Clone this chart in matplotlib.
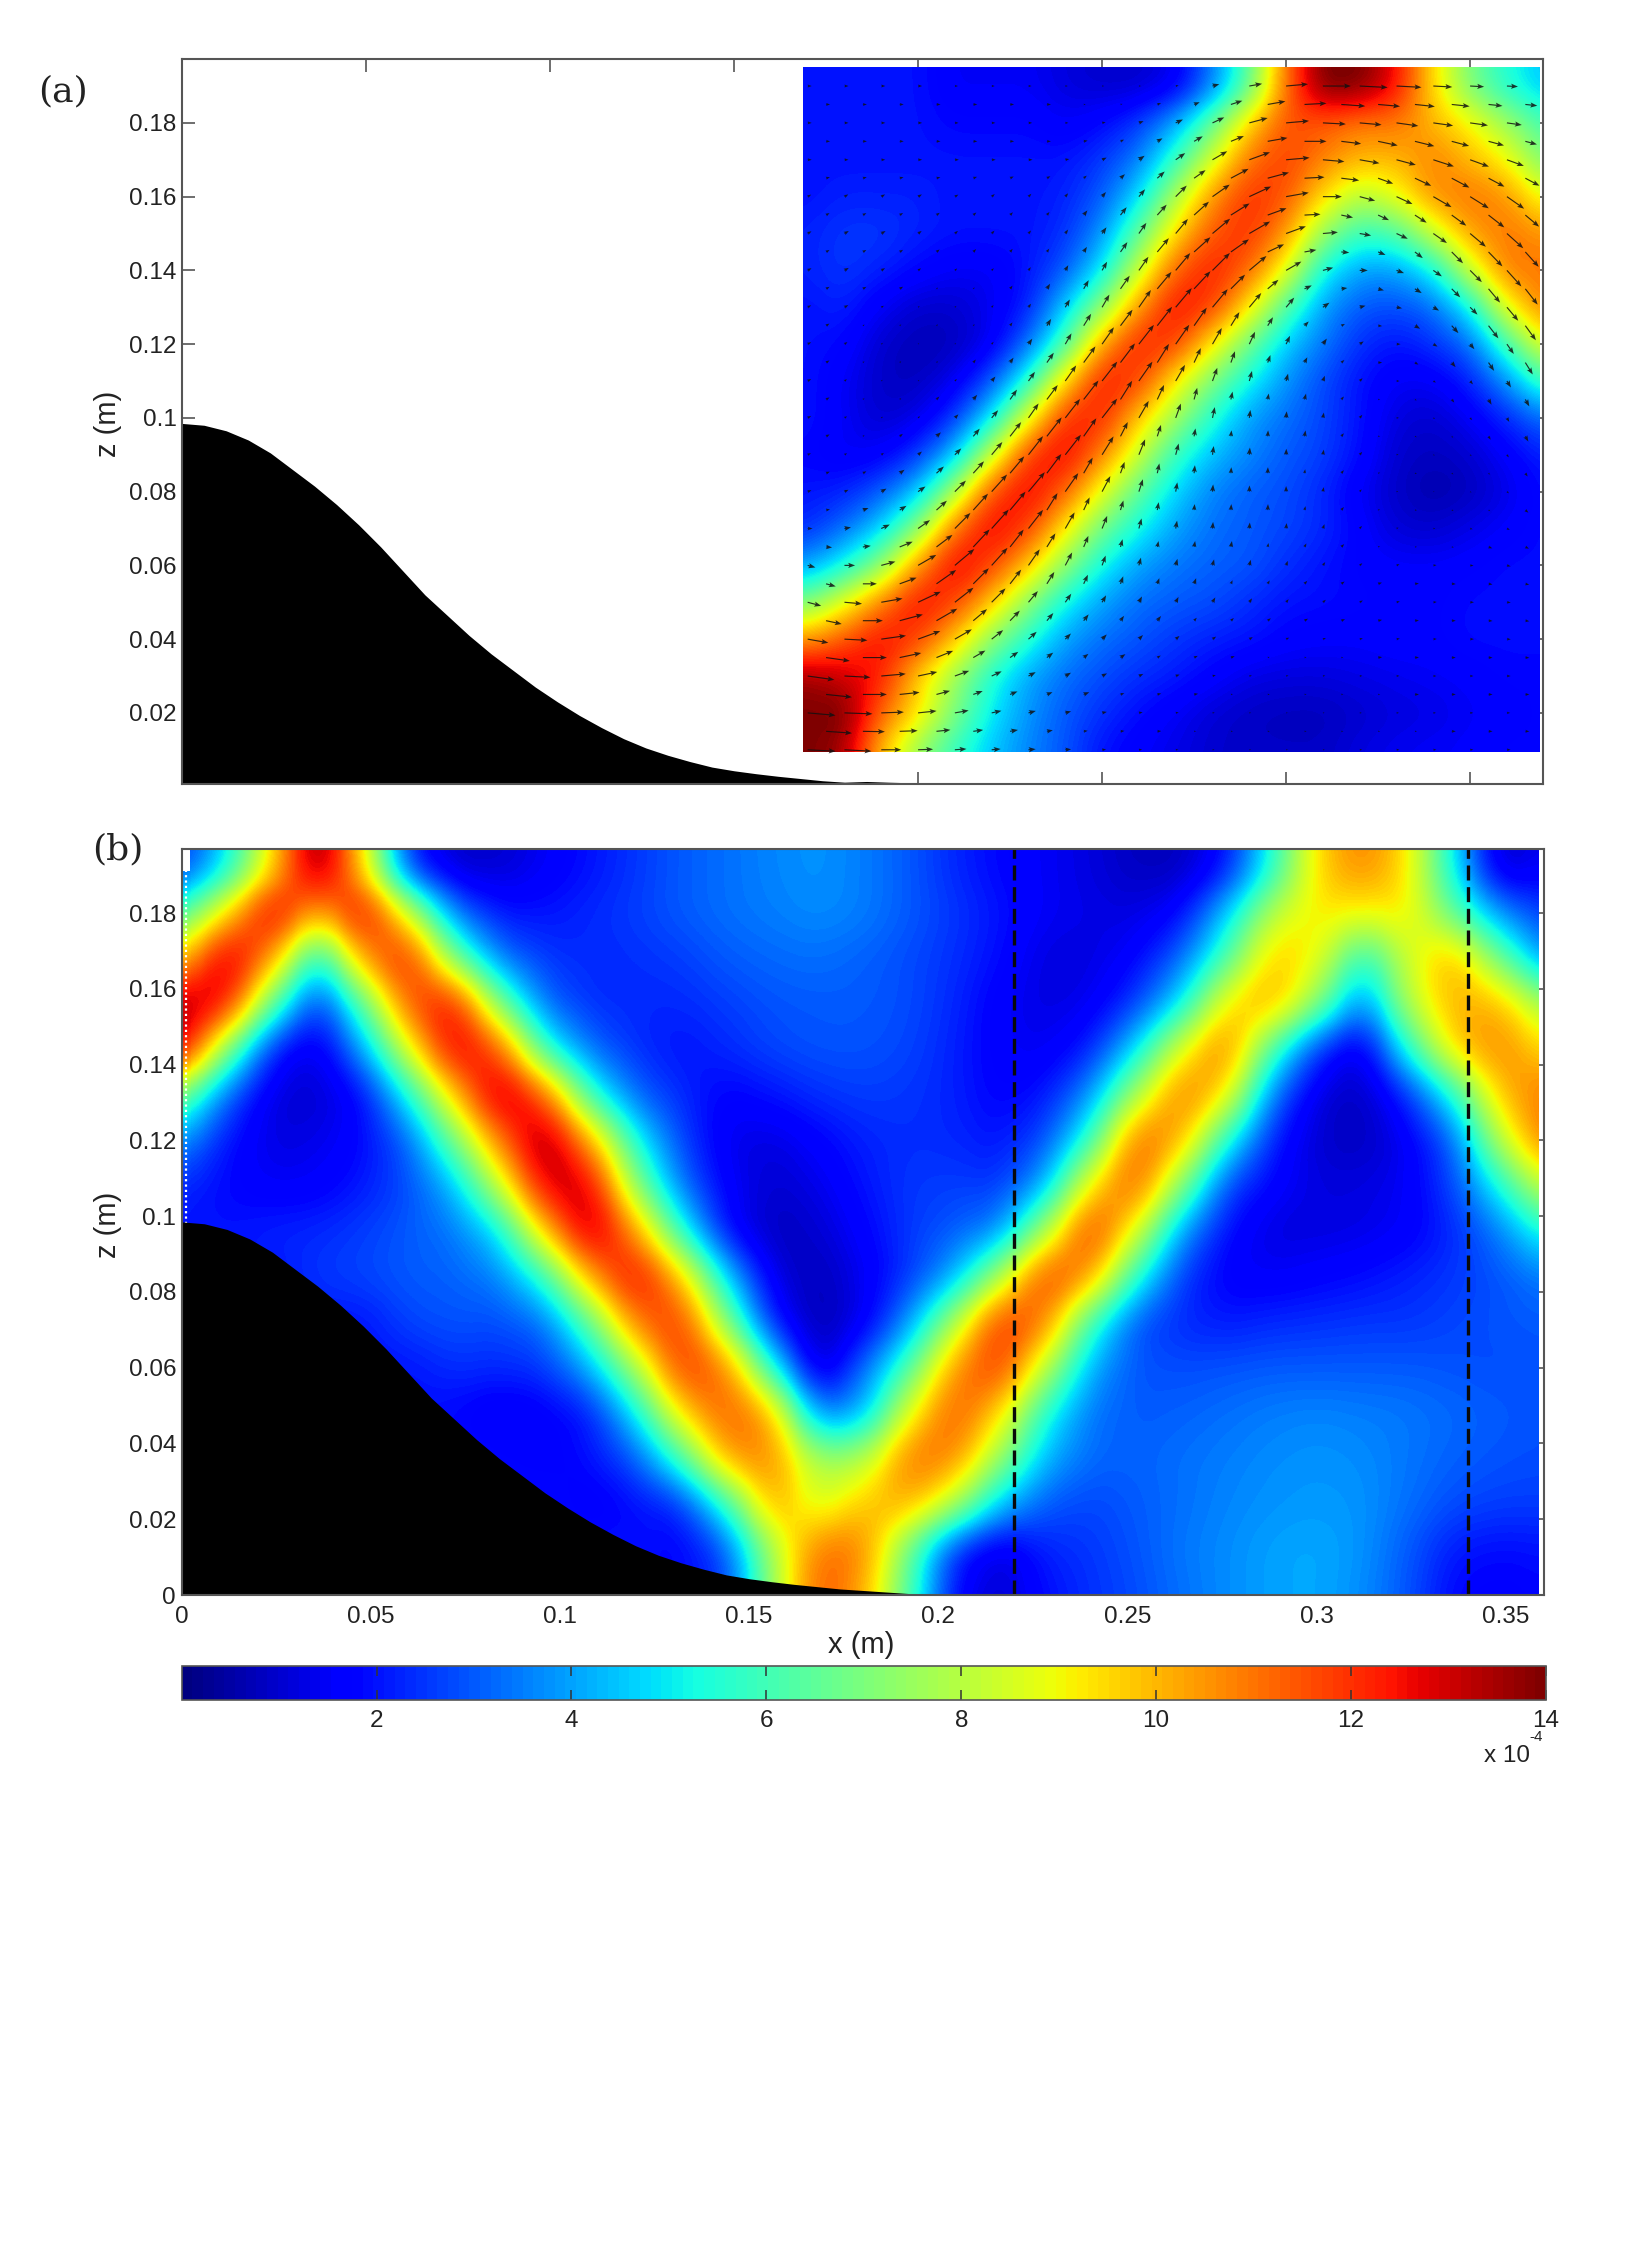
"""Internal wave beams over a ridge: PIV field (a) and model field (b)."""
import matplotlib

matplotlib.use("Agg")
import matplotlib.pyplot as plt
import numpy as np
from matplotlib.patches import Rectangle

WIDTH, HEIGHT = 1650, 2250

# bump profile (m)
bump_x = [0, 0.006, 0.012, 0.018, 0.024, 0.03, 0.036, 0.042, 0.048, 0.054, 0.06, 0.066, 0.072, 0.078, 0.084, 0.09, 0.096, 0.102, 0.108, 0.114, 0.12, 0.126, 0.132, 0.138, 0.144, 0.15, 0.156, 0.162, 0.168, 0.174, 0.18, 0.186, 0.192, 0.197]
bump_z = [0.0985, 0.098, 0.0965, 0.094, 0.0905, 0.086, 0.0815, 0.0765, 0.071, 0.065, 0.0585, 0.052, 0.0465, 0.041, 0.036, 0.0315, 0.027, 0.023, 0.0193, 0.016, 0.013, 0.0105, 0.0085, 0.0068, 0.0053, 0.0043, 0.0035, 0.0028, 0.0022, 0.0016, 0.0012, 0.0008, 0.0004, 0.0001]
tail_x = [0.186, 0.192, 0.2, 0.208]
tail_z = [0.0014, 0.0012, 0.001, 0.00085]

# panel (a), columns 0.17..0.37 every 0.01, rows 0.19..0.01 every 0.01
piv_x = [0.17, 0.18, 0.19, 0.20, 0.21, 0.22, 0.23, 0.24, 0.25, 0.26, 0.27, 0.28, 0.29, 0.30, 0.31, 0.32, 0.33, 0.34, 0.35, 0.36, 0.37]
piv_z = [0.19, 0.18, 0.17, 0.16, 0.15, 0.14, 0.13, 0.12, 0.11, 0.10, 0.09, 0.08, 0.07, 0.06, 0.05, 0.04, 0.03, 0.02, 0.01]
piv_field = [
    [2, 2, 2, 2, 1.5, 1.5, 1.5, 1.2, 1, 1, 1.5, 3.5, 6.5, 11, 14, 14, 12.5, 9.5, 7, 5.5, 4.5],
    [2, 2, 2, 2, 1.8, 1.8, 1.8, 1.5, 1.8, 2.5, 4, 6.5, 9.5, 11.5, 11.5, 11, 11, 10, 9, 7.5, 6],
    [2, 2, 2, 2, 2, 2, 2, 2, 2.5, 3.5, 5.8, 8.5, 11, 11.8, 10.8, 10, 10, 10.8, 10, 9, 7],
    [2, 2.2, 2.2, 2.2, 2, 2, 2, 2.2, 3, 4.8, 7.8, 10.5, 12, 11.5, 9.5, 8, 8.8, 10.5, 11, 10.5, 8.8],
    [2.2, 2.5, 2.5, 2.2, 2, 2, 2, 2.4, 3.8, 6.5, 9.5, 11.5, 12, 10.5, 7.5, 5.8, 6.2, 8.3, 10.3, 11, 10.5],
    [2.2, 2.5, 2.2, 1.8, 1.5, 1.5, 2, 3, 5, 8.3, 11.3, 12.3, 11.2, 8.8, 5.3, 4, 4, 5.2, 8.3, 10.8, 11],
    [2, 2.2, 1.5, 1, 1, 1.4, 2.2, 4.5, 7.3, 10.5, 12.5, 11.8, 9.3, 6.3, 4, 3, 2.8, 3.3, 5.2, 8.8, 10.8],
    [2, 1.8, 1, 0.7, 0.8, 1.5, 3.3, 6.2, 10.3, 12.2, 11.8, 9.3, 6.8, 4.6, 3.4, 2.4, 2, 2.4, 3.3, 6, 8.8],
    [2, 1.5, 0.9, 0.8, 1.4, 2.9, 5.6, 9.5, 12.3, 11.8, 9.3, 7, 5.2, 3.8, 2.8, 2, 1.5, 1.5, 2.2, 3.8, 6],
    [2, 1.5, 1, 1.3, 2.5, 5, 8.8, 12, 12.2, 9.8, 7.6, 5.5, 4, 3.3, 2.7, 2, 1.2, 1, 1.5, 2.3, 3.3],
    [1.8, 1.5, 1.6, 2.5, 4.5, 8.3, 11.8, 12.7, 10.8, 8.3, 5.8, 4.4, 3.6, 3, 2.6, 1.9, 1, 0.8, 1, 1.6, 2.2],
    [2, 2.2, 3, 4.5, 7.8, 11.5, 12.7, 11.3, 8.8, 6.5, 4.7, 3.6, 3.1, 2.8, 2.3, 1.5, 0.9, 0.6, 0.8, 1.3, 1.9],
    [2.4, 3.3, 4.7, 7.3, 11, 12.7, 11.8, 9.3, 6.8, 5.2, 4, 3.3, 3, 2.7, 2.3, 1.7, 1.1, 1, 1.3, 1.6, 1.9],
    [4, 5.3, 7.3, 10.5, 12.7, 11.8, 9.8, 7.3, 5.2, 4, 3.4, 3.1, 2.9, 2.4, 2, 1.7, 1.6, 1.6, 1.7, 1.9, 1.9],
    [7, 8.8, 10.8, 12.5, 11.8, 9.8, 7.3, 5.2, 4, 3.3, 3, 2.8, 2.4, 2, 1.9, 1.8, 1.7, 1.7, 1.9, 1.9, 1.9],
    [10.5, 11.5, 12.5, 11.8, 9.8, 7.3, 5.5, 4, 3.3, 2.9, 2.5, 2.2, 2, 1.7, 1.6, 1.6, 1.7, 1.7, 1.9, 1.9, 1.9],
    [13.5, 13, 12.3, 9.8, 7.6, 5.5, 4.1, 3.3, 2.8, 2.4, 2.1, 1.7, 1.3, 1.2, 1.2, 1.3, 1.4, 1.5, 1.6, 1.8, 1.8],
    [14, 14, 11.3, 9.3, 7, 5, 3.8, 3, 2.4, 1.9, 1.5, 1.1, 0.9, 0.8, 0.8, 1, 1.2, 1.3, 1.5, 1.6, 1.8],
    [14, 13.5, 10, 7.5, 5.8, 4.5, 3.6, 2.9, 2, 1.6, 1.3, 1, 0.9, 0.9, 0.9, 1.2, 1.4, 1.5, 1.6, 1.8, 1.8],
]
# arrow direction on the same grid, degrees on screen
piv_angle = [
    [0, 0, 0, 0, 0, 0, 0, 0, 0, 0, 10, 15, 10, 5, 0, -3, -3, -3, -3, -3, -3],
    [0, 0, 0, 0, 0, 0, 0, 0, 10, 20, 25, 25, 15, 5, -3, -5, -8, -8, -8, -8, -8],
    [0, 0, 0, 0, 0, 0, 0, 10, 25, 35, 35, 30, 20, 5, -5, -10, -15, -18, -20, -20, -20],
    [30, 30, 30, 30, 30, 40, 45, 50, 50, 50, 45, 35, 25, 10, 0, -15, -25, -30, -32, -35, -35],
    [30, 30, 30, 35, 40, 45, 50, 55, 55, 55, 50, 40, 30, 20, 5, -10, -25, -35, -40, -42, -45],
    [30, 30, 30, 35, 40, 45, 55, 60, 60, 55, 50, 45, 40, 30, 15, 0, -20, -35, -45, -48, -50],
    [30, 30, 30, 35, 40, 50, 55, 60, 60, 55, 50, 50, 50, 50, 35, 15, -10, -30, -45, -50, -52],
    [30, 35, 35, 40, 45, 50, 55, 60, 55, 52, 55, 60, 65, 65, 55, 35, 0, -30, -50, -55, -55],
    [30, 35, 40, 40, 45, 50, 55, 55, 52, 55, 60, 70, 75, 75, 70, 45, 0, -30, -50, -58, -60],
    [30, 30, 35, 40, 45, 50, 55, 52, 52, 60, 70, 78, 82, 85, 80, 50, 0, -30, -50, -60, -60],
    [25, 30, 35, 40, 45, 50, 52, 52, 58, 68, 75, 82, 85, 88, 80, 50, 10, -20, -40, -55, -60],
    [20, 25, 30, 35, 45, 48, 50, 55, 62, 72, 80, 85, 88, 90, 80, 50, 20, -10, -30, -40, -50],
    [0, 10, 25, 35, 45, 48, 52, 60, 68, 75, 80, 85, 85, 85, 70, 50, 25, 0, -15, -25, -30],
    [-15, 0, 15, 30, 40, 48, 55, 62, 70, 75, 75, 75, 75, 70, 55, 40, 20, 5, -5, -15, -20],
    [-15, -5, 10, 25, 38, 45, 50, 55, 60, 62, 62, 60, 55, 50, 40, 30, 15, 5, 0, -5, -10],
    [-10, -3, 8, 20, 30, 38, 42, 45, 45, 45, 40, 35, 30, 25, 20, 15, 10, 3, 0, -3, -5],
    [-8, -3, 5, 12, 20, 25, 28, 30, 28, 25, 20, 15, 10, 10, 10, 5, 3, 0, 0, 0, 0],
    [-5, -2, 2, 6, 10, 12, 15, 15, 12, 10, 8, 5, 3, 3, 3, 0, 0, 0, 0, 0, 0],
    [-3, -3, 0, 2, 4, 5, 5, 5, 3, 2, 0, 0, 0, 0, 0, 0, 0, 0, 0, 0, 0],
]

# second, staggered set of arrows: arrow length and direction read at the cell centres
arrow_x = [0.175, 0.185, 0.195, 0.205, 0.215, 0.225, 0.235, 0.245, 0.255, 0.265, 0.275, 0.285, 0.295, 0.305, 0.315, 0.325, 0.335, 0.345, 0.355, 0.365]
arrow_z = [0.185, 0.175, 0.165, 0.155, 0.145, 0.135, 0.125, 0.115, 0.105, 0.095, 0.085, 0.075, 0.065, 0.055, 0.045, 0.035, 0.025, 0.015]
arrow_len = [
    [2, 2, 2, 2, 2, 2, 2, 1, 1, 2, 3, 6, 9, 11, 12, 11, 10, 9, 7, 6],
    [2, 2, 2, 2, 2, 2, 2, 2, 2, 3, 5, 7, 10, 11, 10, 10, 10, 9, 8, 6],
    [2, 2, 2, 2, 2, 2, 2, 2, 3, 5, 7, 10, 11, 10, 9, 8, 9, 10, 9, 8],
    [2, 2, 2, 2, 2, 2, 2, 3, 5, 7, 10, 11, 10, 8, 6, 6, 7, 9, 10, 9],
    [2, 2, 2, 2, 2, 2, 2, 3, 6, 9, 11, 11, 9, 6, 4, 4, 5, 8, 10, 10],
    [2, 2, 2, 1, 1, 2, 3, 5, 8, 11, 12, 10, 7, 4, 3, 3, 4, 6, 9, 10],
    [2, 1, 1, 1, 1, 2, 4, 7, 10, 12, 11, 8, 5, 3, 2, 2, 3, 5, 8, 9],
    [2, 1, 1, 1, 2, 3, 6, 10, 12, 11, 8, 6, 4, 3, 2, 2, 2, 3, 5, 7],
    [2, 1, 1, 2, 3, 6, 9, 12, 11, 8, 6, 4, 3, 3, 2, 1, 1, 2, 3, 4],
    [2, 1, 2, 3, 5, 9, 12, 11, 8, 6, 4, 3, 3, 3, 2, 1, 1, 1, 2, 3],
    [2, 2, 3, 5, 8, 11, 12, 9, 6, 5, 4, 3, 3, 2, 2, 1, 1, 1, 1, 2],
    [2, 3, 4, 7, 11, 12, 10, 7, 5, 4, 3, 3, 3, 2, 2, 1, 1, 1, 1, 2],
    [3, 4, 7, 10, 12, 11, 8, 6, 4, 3, 3, 3, 2, 2, 2, 1, 1, 1, 2, 2],
    [5, 7, 9, 12, 11, 9, 7, 5, 4, 3, 3, 2, 2, 2, 2, 2, 2, 2, 2, 2],
    [8, 10, 12, 12, 9, 7, 5, 4, 3, 3, 2, 2, 2, 2, 2, 2, 2, 2, 2, 2],
    [12, 12, 11, 9, 7, 5, 4, 3, 3, 2, 2, 2, 1, 1, 1, 2, 2, 2, 2, 2],
    [13, 12, 10, 7, 5, 4, 3, 3, 2, 2, 2, 1, 1, 1, 1, 1, 2, 2, 2, 2],
    [13, 11, 9, 7, 5, 4, 3, 2, 2, 2, 1, 1, 1, 1, 1, 1, 1, 2, 2, 2],
]
arrow_angle = [
    [0, 0, 0, 0, 0, 0, 0, 0, 15, 20, 22, 18, 10, 3, -4, -5, -6, -6, -6, -6],
    [0, 0, 0, 0, 0, 0, 0, 10, 25, 30, 30, 22, 10, 0, -7, -12, -14, -15, -15, -15],
    [15, 15, 15, 15, 20, 25, 30, 40, 42, 42, 35, 28, 15, 3, -7, -20, -25, -28, -28, -28],
    [30, 30, 32, 35, 40, 45, 50, 52, 52, 48, 42, 32, 20, 3, -12, -25, -33, -36, -38, -40],
    [30, 30, 32, 38, 45, 50, 55, 58, 55, 50, 42, 35, 25, 10, -5, -22, -38, -45, -46, -48],
    [30, 30, 32, 38, 45, 52, 58, 60, 55, 50, 47, 45, 40, 25, 8, -15, -32, -45, -50, -52],
    [32, 32, 38, 42, 48, 55, 58, 58, 53, 52, 55, 58, 58, 45, 25, -5, -30, -48, -52, -54],
    [32, 38, 40, 42, 50, 55, 55, 54, 53, 58, 65, 70, 70, 62, 40, 0, -30, -50, -56, -58],
    [30, 35, 40, 45, 50, 55, 53, 52, 58, 65, 75, 78, 80, 75, 48, 0, -30, -50, -60, -60],
    [28, 32, 38, 42, 50, 52, 52, 55, 63, 72, 80, 84, 86, 80, 50, 5, -25, -45, -58, -60],
    [22, 28, 35, 42, 48, 50, 53, 60, 70, 78, 84, 86, 88, 80, 50, 15, -15, -35, -48, -55],
    [10, 20, 32, 42, 48, 50, 58, 65, 73, 80, 85, 86, 87, 75, 50, 22, -5, -22, -32, -40],
    [-5, 8, 22, 37, 47, 52, 58, 67, 75, 78, 80, 80, 78, 62, 45, 22, 3, -10, -20, -25],
    [-15, 0, 20, 35, 45, 52, 58, 65, 70, 70, 70, 65, 60, 48, 35, 18, 5, -3, -10, -15],
    [-12, 0, 15, 30, 40, 46, 50, 52, 54, 52, 48, 42, 38, 30, 22, 12, 4, 0, -4, -8],
    [-8, 0, 12, 22, 30, 35, 38, 38, 35, 30, 25, 20, 18, 15, 10, 6, 2, 0, -2, -3],
    [-6, 0, 6, 15, 20, 22, 22, 22, 18, 14, 10, 8, 6, 6, 3, 2, 0, 0, 0, 0],
    [-4, -1, 2, 6, 8, 10, 10, 8, 6, 4, 2, 1, 1, 1, 0, 0, 0, 0, 0, 0],
]

# panel (b), columns 0..0.36 every 0.012, rows 0.192..0 every 0.012
model_field = [
    [2.5, 5, 9.5, 14, 9.5, 2.5, 1, 1, 1.5, 2, 2.5, 3, 3.3, 3.6, 3.8, 3.5, 3, 2.3, 1.8, 1.5, 1.2, 0.8, 0.8, 2, 5.5, 9.5, 10.8, 9.3, 5, 1, 1.5],
    [6, 9.5, 13, 10, 12.8, 8.5, 3.5, 2, 2, 2.3, 2.6, 3, 3.3, 3.5, 3.7, 3.5, 3, 2.5, 2, 1.5, 1.3, 1.2, 1.8, 4.5, 8, 9.3, 9, 9.2, 6.5, 3.8, 2.5],
    [9.8, 13.3, 10.5, 5, 10.5, 12.3, 7, 3.5, 2.5, 2.3, 2.4, 2.6, 3, 3.2, 3.3, 3.1, 2.8, 2.4, 1.9, 1.2, 1.2, 1.7, 3.2, 6.2, 9.8, 9, 5.5, 8.5, 10, 6.8, 3.8],
    [13.5, 12.5, 6.5, 2.3, 6.5, 11.5, 12.5, 7, 3.3, 2.4, 2.3, 2.3, 2.6, 2.9, 3, 3, 2.8, 2.3, 1.6, 1.2, 1.4, 2.6, 5, 9.3, 10.2, 7.2, 3.3, 8, 10.2, 10, 7.5],
    [13, 7.2, 2.2, 1.2, 4, 8.8, 13, 11.5, 5.8, 3.3, 2.4, 2, 2.3, 2.7, 2.9, 2.9, 2.7, 2.2, 1.6, 1.4, 2.2, 4.8, 8.8, 11, 6.2, 2.5, 1.2, 5.5, 9.5, 10.8, 9.5],
    [7, 3.2, 1.2, 1, 1.9, 5.3, 9.8, 13.5, 11.3, 5.8, 3.2, 2.3, 1.7, 2, 2.4, 2.6, 2.5, 2.2, 1.7, 2, 3.8, 7.8, 11, 9.3, 3.5, 1.2, 0.8, 2.4, 5.5, 9.8, 11],
    [3.8, 2, 1.2, 1.3, 1.8, 3.2, 6.8, 11, 13.8, 10.2, 5.3, 2.7, 1.4, 1.2, 1.7, 2.2, 2.4, 2.3, 2, 2.8, 5.8, 11.2, 10.2, 5.5, 2.2, 1, 0.8, 1.5, 3.2, 8, 11],
    [2.3, 1.8, 1.5, 1.6, 2.1, 2.8, 4.4, 8.3, 13, 13, 7.3, 3.4, 1.6, 1, 1.3, 2, 2.5, 2.6, 2.5, 4.2, 9.3, 11.5, 7.2, 2.8, 1.7, 1.2, 1.2, 1.5, 2.7, 5.3, 8.5],
    [2, 2, 2.2, 2.3, 2.6, 3, 3.4, 5, 9.8, 13.5, 10.5, 5.6, 1.9, 0.8, 1, 1.7, 2.5, 3, 3.8, 7.8, 12, 8.8, 4, 1.9, 1.2, 1.2, 1.3, 1.6, 2.3, 3.5, 5.5],
    [2, 2, 2, 2.5, 2.7, 3, 3.1, 3.6, 5.8, 10.3, 12.8, 9.8, 4.6, 1.3, 0.7, 1.4, 2.5, 4.2, 7.8, 11.8, 10.5, 5.6, 2.6, 1.6, 1.5, 1.7, 1.9, 2.2, 2.5, 2.9, 3.5],
    [2, 2, 2, 2, 2, 2.7, 2.9, 2.8, 3.4, 6.6, 11, 12, 7.2, 2.2, 0.6, 1.4, 3.8, 7.8, 12, 11, 6, 3, 2.3, 2.1, 2.3, 2.4, 2.5, 2.5, 2.7, 2.9, 3],
    [2, 2, 2, 2, 2, 2, 2.4, 2.3, 2.5, 4.2, 7.8, 12, 10.8, 5.5, 0.8, 3.1, 6.2, 10.5, 12, 8.2, 4.2, 2.9, 2.8, 2.9, 3, 3, 3, 3, 2.9, 2.8, 2.9],
    [2, 2, 2, 2, 2, 2, 1.8, 1.4, 1.6, 2.2, 5, 9.5, 11.5, 10, 3.6, 4.2, 8.8, 11.5, 9.6, 5.5, 3.4, 3, 3.1, 3.3, 3.5, 3.6, 3.5, 3.4, 3.2, 3, 2.9],
    [2, 2, 2, 2, 2, 2, 2, 1.8, 1.6, 1.9, 3, 6, 10.3, 10.8, 7.5, 7.8, 11, 10.8, 7.5, 4.3, 3.2, 3.1, 3.3, 3.5, 3.7, 3.8, 3.7, 3.4, 3.1, 2.9, 2.8],
    [2, 2, 2, 2, 2, 2, 2, 2, 2, 1.5, 1.9, 2.5, 5.8, 10.3, 8.5, 9.8, 10.2, 8, 4.5, 3, 2.7, 3, 3.3, 3.6, 3.8, 3.9, 3.8, 3.3, 2.8, 2.6, 2.6],
    [2, 2, 2, 2, 2, 2, 2, 2, 2, 2, 2, 1.6, 3, 7.8, 11, 10.8, 6.8, 2.5, 1.2, 2.2, 2.5, 2.9, 3.4, 3.7, 4, 4.1, 3.8, 3, 2.1, 1.9, 2],
    [2, 2, 2, 2, 2, 2, 2, 2, 2, 2, 2, 2, 2.5, 7.5, 11.5, 10.3, 6.2, 1.8, 0.9, 1.9, 2.4, 2.8, 3.3, 3.7, 4, 4.1, 3.7, 2.9, 1.8, 1.6, 1.8],
]

z_ticks = [0.02, 0.04, 0.06, 0.08, 0.1, 0.12, 0.14, 0.16, 0.18]
x_ticks = [0.05, 0.1, 0.15, 0.2, 0.25, 0.3, 0.35]
bar_ticks = [2, 4, 6, 8, 10, 12, 14]
dash_x = [0.22, 0.34]

SPINE = "#555555"
INK = "#222222"


def axes_at(fig, left, top, right, bottom):
    return fig.add_axes([left / WIDTH, 1 - bottom / HEIGHT, (right - left) / WIDTH, (bottom - top) / HEIGHT])


def text_at(fig, x, y, s, **kw):
    kw.setdefault("ha", "center")
    kw.setdefault("va", "center")
    kw.setdefault("color", INK)
    return fig.text(x / WIDTH, 1 - y / HEIGHT, s, **kw)


def style_axes(ax):
    for spine in ax.spines.values():
        spine.set_color(SPINE)
        spine.set_linewidth(1.5)
    ax.set_axisbelow(True)


def draw_arrows(ax, x, z, length, degrees):
    xx, zz = np.meshgrid(x, z)
    rad = np.deg2rad(np.array(degrees))
    mag = np.array(length)
    ax.quiver(
        xx, zz, mag * np.cos(rad), mag * np.sin(rad), angles="uv", scale_units="dots", scale=0.5,
        units="dots", width=1.15, headwidth=4.5, headlength=6, headaxislength=5, color="#111111", alpha=0.85,
        pivot="tail", zorder=2,
    )


def main() -> None:
    plt.rcParams["font.family"] = ["Liberation Sans", "DejaVu Sans"]
    cmap = plt.get_cmap("jet", 128)
    fig = plt.figure(figsize=(WIDTH / 100, HEIGHT / 100), dpi=100, facecolor="white")

    # (a)
    ax = axes_at(fig, 182, 59.1, 1543, 783.5)
    style_axes(ax)
    im = ax.imshow(
        np.array(piv_field), extent=[0.165, 0.375, 0.005, 0.195], cmap=cmap, vmin=0, vmax=14,
        interpolation="quadric", aspect="auto", zorder=1,
    )
    im.set_clip_path(Rectangle((0.1688, 0.0095), 0.2002, 0.1857, transform=ax.transData))

    draw_arrows(ax, piv_x, piv_z, piv_field, piv_angle)
    draw_arrows(ax, arrow_x, arrow_z, arrow_len, arrow_angle)

    ax.fill_between(bump_x[:-3] + tail_x, bump_z[:-3] + tail_z, 0, color="black", lw=0, zorder=1.5)
    ax.set_xlim(0, 0.3698)
    ax.set_ylim(0.00085, 0.1973)
    ax.set_xticks(x_ticks)
    ax.set_yticks(z_ticks)
    ax.set_yticklabels([f"{t:g}" for t in z_ticks])
    ax.set_xticklabels([])
    ax.tick_params(axis="both", direction="in", length=9, width=1.2, color=SPINE, top=True, right=True)
    ax.tick_params(axis="y", labelsize=17.5, labelcolor=INK, pad=4)

    # (b)
    ax = axes_at(fig, 181.6, 848.75, 1543.6, 1595)
    style_axes(ax)
    extent_b = [-0.006, 0.366, -0.006, 0.198]
    im = ax.imshow(
        np.array(model_field), extent=extent_b, cmap=cmap, vmin=0, vmax=14,
        interpolation="quadric", aspect="auto", zorder=1,
    )
    im.set_clip_path(Rectangle((0.0022, 0), 0.3563, 0.197, transform=ax.transData))
    strip = ax.imshow(
        np.array(model_field), extent=extent_b, cmap=cmap, vmin=0, vmax=14,
        interpolation="quadric", aspect="auto", zorder=1,
    )
    strip.set_clip_path(Rectangle((0, 0.098), 0.0022, 0.093, transform=ax.transData))
    ax.plot([0.0011, 0.0011], [0.098, 0.191], color="white", lw=1.6, ls=(0, (1, 1.4)), zorder=1.2)

    ax.fill_between(bump_x, bump_z, 0, color="black", lw=0, zorder=1.5)
    ax.vlines(dash_x, 0, 0.197, color="#0a0a0a", lw=2.4, ls=(0, (4.5, 2)), zorder=2)
    ax.set_xlim(0, 0.36)
    ax.set_ylim(0, 0.197)
    ax.set_xticks([0] + x_ticks)
    ax.set_xticklabels(["0"] + [f"{t:g}" for t in x_ticks])
    ax.set_yticks([0] + z_ticks)
    ax.set_yticklabels(["0"] + [f"{t:g}" for t in z_ticks])
    ax.tick_params(axis="both", direction="in", length=9, width=1.2, color=SPINE, right=True, labelsize=17.5, labelcolor=INK)
    ax.tick_params(axis="y", pad=4)
    ax.tick_params(axis="x", pad=8)

    # colour bar
    cax = axes_at(fig, 181.6, 1666, 1546, 1700)
    bar = fig.colorbar(im, cax=cax, orientation="horizontal", ticks=bar_ticks)
    bar.outline.set_edgecolor(SPINE)
    bar.outline.set_linewidth(1.2)
    cax.tick_params(axis="x", direction="in", length=7, width=1.1, color="#333333", top=True, bottom=True,
                    labelsize=17.5, labelcolor=INK, pad=7)

    text_at(fig, 63, 91.5, "(a)", family="DejaVu Serif", fontsize=26)
    text_at(fig, 118, 849, "(b)", family="DejaVu Serif", fontsize=26)
    text_at(fig, 108, 424, "z (m)", rotation=90, fontsize=21)
    text_at(fig, 108, 1225, "z (m)", rotation=90, fontsize=21)
    text_at(fig, 861, 1645, "x (m)", fontsize=21)
    text_at(fig, 1507, 1756, "x 10", fontsize=17.5)
    text_at(fig, 1536, 1737, "-4", fontsize=11)

    fig.savefig("out.png", dpi=100, facecolor="white")
    print("Saved: out.png")


if __name__ == "__main__":
    main()
